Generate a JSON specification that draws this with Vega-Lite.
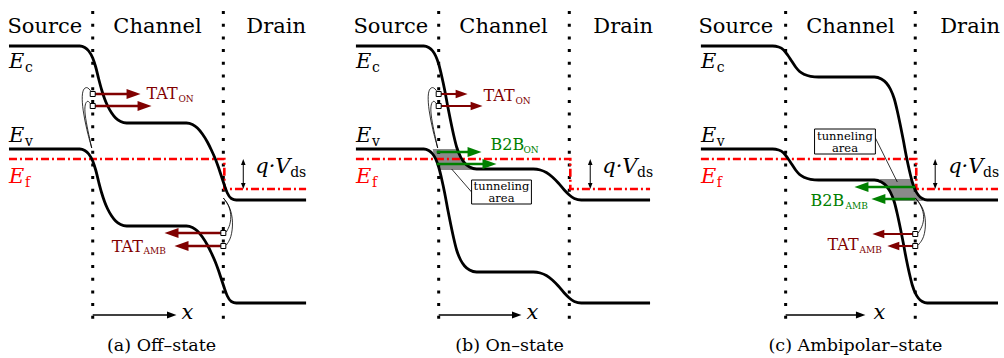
{
"$schema":"https://vega.github.io/schema/vega-lite/v6.json",
"width":1004,"height":358,
"autosize":{"type":"fit","contains":"padding"},
"padding":0,
"background":"white",
"config":{"view":{"stroke":null}},
"datasets":{
"bands":[
{"id":"aEc","x":9,"y":46},{"id":"aEc","x":80,"y":46},{"id":"aEc","x":85,"y":47.5},{"id":"aEc","x":89,"y":51},{"id":"aEc","x":93,"y":58},{"id":"aEc","x":96,"y":67},{"id":"aEc","x":99,"y":79},{"id":"aEc","x":102,"y":90},{"id":"aEc","x":105,"y":99},{"id":"aEc","x":108,"y":106},{"id":"aEc","x":112,"y":113},{"id":"aEc","x":116,"y":118},{"id":"aEc","x":121,"y":121.5},{"id":"aEc","x":127,"y":123},{"id":"aEc","x":187,"y":123},{"id":"aEc","x":193,"y":124.5},{"id":"aEc","x":198,"y":128},{"id":"aEc","x":203,"y":134},{"id":"aEc","x":208,"y":142},{"id":"aEc","x":212,"y":150},{"id":"aEc","x":216,"y":159},{"id":"aEc","x":219,"y":167},{"id":"aEc","x":222,"y":176},{"id":"aEc","x":225,"y":185},{"id":"aEc","x":228,"y":193},{"id":"aEc","x":232,"y":198.5},{"id":"aEc","x":237,"y":200},{"id":"aEc","x":307,"y":200},
{"id":"aEv","x":9,"y":149},{"id":"aEv","x":80,"y":149},{"id":"aEv","x":85,"y":150.5},{"id":"aEv","x":89,"y":154},{"id":"aEv","x":93,"y":161},{"id":"aEv","x":96,"y":170},{"id":"aEv","x":99,"y":182},{"id":"aEv","x":102,"y":193},{"id":"aEv","x":105,"y":202},{"id":"aEv","x":108,"y":209},{"id":"aEv","x":112,"y":216},{"id":"aEv","x":116,"y":221},{"id":"aEv","x":121,"y":224.5},{"id":"aEv","x":127,"y":226},{"id":"aEv","x":187,"y":226},{"id":"aEv","x":193,"y":227.5},{"id":"aEv","x":198,"y":231},{"id":"aEv","x":203,"y":237},{"id":"aEv","x":208,"y":245},{"id":"aEv","x":212,"y":253},{"id":"aEv","x":216,"y":262},{"id":"aEv","x":219,"y":270},{"id":"aEv","x":222,"y":279},{"id":"aEv","x":225,"y":288},{"id":"aEv","x":228,"y":296},{"id":"aEv","x":232,"y":301.5},{"id":"aEv","x":237,"y":303},{"id":"aEv","x":307,"y":303},
{"id":"bEc","x":357,"y":46},{"id":"bEc","x":425,"y":46},{"id":"bEc","x":430,"y":47.5},{"id":"bEc","x":434,"y":51},{"id":"bEc","x":437,"y":56},{"id":"bEc","x":440,"y":64},{"id":"bEc","x":443,"y":76},{"id":"bEc","x":446,"y":90},{"id":"bEc","x":449,"y":106},{"id":"bEc","x":452,"y":121},{"id":"bEc","x":455,"y":135},{"id":"bEc","x":458,"y":147},{"id":"bEc","x":462,"y":157},{"id":"bEc","x":466,"y":163},{"id":"bEc","x":471,"y":167},{"id":"bEc","x":478,"y":169},{"id":"bEc","x":535,"y":169},{"id":"bEc","x":542,"y":170},{"id":"bEc","x":548,"y":172.5},{"id":"bEc","x":554,"y":177},{"id":"bEc","x":560,"y":183},{"id":"bEc","x":566,"y":190},{"id":"bEc","x":571,"y":195},{"id":"bEc","x":576,"y":198.5},{"id":"bEc","x":583,"y":200},{"id":"bEc","x":652,"y":200},
{"id":"bEv","x":357,"y":149},{"id":"bEv","x":425,"y":149},{"id":"bEv","x":430,"y":150.5},{"id":"bEv","x":434,"y":154},{"id":"bEv","x":437,"y":159},{"id":"bEv","x":440,"y":167},{"id":"bEv","x":443,"y":179},{"id":"bEv","x":446,"y":193},{"id":"bEv","x":449,"y":209},{"id":"bEv","x":452,"y":224},{"id":"bEv","x":455,"y":238},{"id":"bEv","x":458,"y":250},{"id":"bEv","x":462,"y":260},{"id":"bEv","x":466,"y":266},{"id":"bEv","x":471,"y":270},{"id":"bEv","x":478,"y":272},{"id":"bEv","x":535,"y":272},{"id":"bEv","x":542,"y":273},{"id":"bEv","x":548,"y":275.5},{"id":"bEv","x":554,"y":280},{"id":"bEv","x":560,"y":286},{"id":"bEv","x":566,"y":293},{"id":"bEv","x":571,"y":298},{"id":"bEv","x":576,"y":301.5},{"id":"bEv","x":583,"y":303},{"id":"bEv","x":652,"y":303},
{"id":"cEc","x":703,"y":46},{"id":"cEc","x":775,"y":46},{"id":"cEc","x":781,"y":47},{"id":"cEc","x":786,"y":50},{"id":"cEc","x":790,"y":55},{"id":"cEc","x":794,"y":61},{"id":"cEc","x":798,"y":67},{"id":"cEc","x":802,"y":71.5},{"id":"cEc","x":807,"y":74.5},{"id":"cEc","x":813,"y":76.3},{"id":"cEc","x":821,"y":77},{"id":"cEc","x":877,"y":77},{"id":"cEc","x":884,"y":79},{"id":"cEc","x":889,"y":83},{"id":"cEc","x":893,"y":89},{"id":"cEc","x":897,"y":99},{"id":"cEc","x":900,"y":111},{"id":"cEc","x":903,"y":125},{"id":"cEc","x":906,"y":140},{"id":"cEc","x":909,"y":156},{"id":"cEc","x":912,"y":170},{"id":"cEc","x":915,"y":182},{"id":"cEc","x":918,"y":190},{"id":"cEc","x":921,"y":195},{"id":"cEc","x":925,"y":198.5},{"id":"cEc","x":930,"y":200},{"id":"cEc","x":1001,"y":200},
{"id":"cEv","x":703,"y":149},{"id":"cEv","x":775,"y":149},{"id":"cEv","x":781,"y":150},{"id":"cEv","x":786,"y":153},{"id":"cEv","x":790,"y":158},{"id":"cEv","x":794,"y":164},{"id":"cEv","x":798,"y":170},{"id":"cEv","x":802,"y":174.5},{"id":"cEv","x":807,"y":177.5},{"id":"cEv","x":813,"y":179.3},{"id":"cEv","x":821,"y":180},{"id":"cEv","x":877,"y":180},{"id":"cEv","x":884,"y":182},{"id":"cEv","x":889,"y":186},{"id":"cEv","x":893,"y":192},{"id":"cEv","x":897,"y":202},{"id":"cEv","x":900,"y":214},{"id":"cEv","x":903,"y":228},{"id":"cEv","x":906,"y":243},{"id":"cEv","x":909,"y":259},{"id":"cEv","x":912,"y":273},{"id":"cEv","x":915,"y":285},{"id":"cEv","x":918,"y":293},{"id":"cEv","x":921,"y":298},{"id":"cEv","x":925,"y":301.5},{"id":"cEv","x":930,"y":303},{"id":"cEv","x":1001,"y":303}
],
"fermi":[
{"id":"a","o":0,"x":9,"y":159},{"id":"a","o":1,"x":225,"y":159},{"id":"a","o":2,"x":225,"y":189},{"id":"a","o":3,"x":307,"y":189},
{"id":"b","o":0,"x":357,"y":159},{"id":"b","o":1,"x":572,"y":159},{"id":"b","o":2,"x":572,"y":189},{"id":"b","o":3,"x":652,"y":189},
{"id":"c","o":0,"x":703,"y":159},{"id":"c","o":1,"x":919,"y":159},{"id":"c","o":2,"x":919,"y":189},{"id":"c","o":3,"x":1001,"y":189}
],
"dots":[
{"x":93,"y":11,"y2":319},{"x":224,"y":11,"y2":319},{"x":440,"y":11,"y2":319},{"x":571,"y":11,"y2":319},{"x":788,"y":11,"y2":319},{"x":918,"y":11,"y2":319}
],
"gray":[
{"id":"b","y":149,"x":434,"x2":458},{"id":"b","y":155,"x":435,"x2":461},{"id":"b","y":160,"x":437,"x2":464},{"id":"b","y":165,"x":439,"x2":467.5},{"id":"b","y":170,"x":441,"x2":474},
{"id":"c","y":179,"x":882,"x2":914.5},{"id":"c","y":185,"x":888,"x2":916},{"id":"c","y":190,"x":892,"x2":918},{"id":"c","y":195,"x":894.5,"x2":921},{"id":"c","y":201,"x":897,"x2":926}
],
"curves":[
{"id":"a1","o":0,"x":92,"y":148},{"id":"a1","o":1,"x":87,"y":130},{"id":"a1","o":2,"x":83,"y":110},{"id":"a1","o":3,"x":82,"y":95},{"id":"a1","o":4,"x":84,"y":88},{"id":"a1","o":5,"x":88,"y":87},{"id":"a1","o":6,"x":91,"y":91},
{"id":"a2","o":0,"x":92,"y":148},{"id":"a2","o":1,"x":88,"y":130},{"id":"a2","o":2,"x":85,"y":114},{"id":"a2","o":3,"x":85,"y":104},{"id":"a2","o":4,"x":88,"y":100},{"id":"a2","o":5,"x":91,"y":104},
{"id":"a3","o":0,"x":224,"y":198},{"id":"a3","o":1,"x":229,"y":204},{"id":"a3","o":2,"x":232,"y":214},{"id":"a3","o":3,"x":231,"y":225},{"id":"a3","o":4,"x":227,"y":232},
{"id":"a4","o":0,"x":224,"y":198},{"id":"a4","o":1,"x":231,"y":207},{"id":"a4","o":2,"x":234,"y":222},{"id":"a4","o":3,"x":232,"y":238},{"id":"a4","o":4,"x":227,"y":245},
{"id":"b1","o":0,"x":439,"y":148},{"id":"b1","o":1,"x":434,"y":130},{"id":"b1","o":2,"x":430,"y":110},{"id":"b1","o":3,"x":429,"y":95},{"id":"b1","o":4,"x":431,"y":88},{"id":"b1","o":5,"x":435,"y":87},{"id":"b1","o":6,"x":438,"y":91},
{"id":"b2","o":0,"x":439,"y":148},{"id":"b2","o":1,"x":435,"y":130},{"id":"b2","o":2,"x":432,"y":114},{"id":"b2","o":3,"x":432,"y":104},{"id":"b2","o":4,"x":435,"y":100},{"id":"b2","o":5,"x":438,"y":104},
{"id":"c3","o":0,"x":918,"y":198},{"id":"c3","o":1,"x":923,"y":204},{"id":"c3","o":2,"x":927,"y":214},{"id":"c3","o":3,"x":926,"y":225},{"id":"c3","o":4,"x":921,"y":233},
{"id":"c4","o":0,"x":918,"y":198},{"id":"c4","o":1,"x":926,"y":207},{"id":"c4","o":2,"x":929,"y":222},{"id":"c4","o":3,"x":927,"y":238},{"id":"c4","o":4,"x":921,"y":245}
],
"boxes":[{"x":473,"x2":533,"y":180,"y2":204},{"x":817,"x2":878,"y":129,"y2":154}],
"pointers":[{"x":453,"y":169,"x2":473,"y2":192},{"x":878,"y":138,"x2":900,"y2":182}],
"squares":[{"x":93,"y":94},{"x":93,"y":106},{"x":224,"y":233},{"x":224,"y":246},{"x":440,"y":94},{"x":440,"y":106},{"x":918,"y":234},{"x":918,"y":246}],
"shafts":[
{"x":93,"y":94,"x2":135,"y2":94,"kind":"tat","w":"thick"},{"x":93,"y":106,"x2":146,"y2":106,"kind":"tat","w":"thick"},{"x":224,"y":233,"x2":171,"y2":233,"kind":"tat","w":"thick"},{"x":224,"y":246,"x2":181,"y2":246,"kind":"tat","w":"thick"},
{"x":440,"y":94,"x2":466,"y2":94,"kind":"tat","w":"thin"},{"x":440,"y":106,"x2":481,"y2":106,"kind":"tat","w":"thin"},{"x":438,"y":152,"x2":477,"y2":152,"kind":"b2b","w":"thick"},{"x":438,"y":164,"x2":492,"y2":164,"kind":"b2b","w":"thick"},
{"x":918,"y":187,"x2":863,"y2":187,"kind":"b2b","w":"thick"},{"x":918,"y":199,"x2":880,"y2":199,"kind":"b2b","w":"thick"},{"x":918,"y":234,"x2":878,"y2":234,"kind":"tat","w":"thin"},{"x":918,"y":246,"x2":893,"y2":246,"kind":"tat","w":"thin"},
{"x":93,"y":315,"x2":173,"y2":315,"kind":"band","w":"axis"},{"x":440,"y":315,"x2":519,"y2":315,"kind":"band","w":"axis"},{"x":788,"y":315,"x2":864,"y2":315,"kind":"band","w":"axis"},
{"x":244,"y":163,"x2":244,"y2":185,"kind":"band","w":"qv"},{"x":592,"y":163,"x2":592,"y2":185,"kind":"band","w":"qv"},{"x":938,"y":163,"x2":938,"y2":185,"kind":"band","w":"qv"}
],
"heads":[
{"x":141,"y":94,"dir":"r","kind":"tat","w":"thick"},{"x":152,"y":106,"dir":"r","kind":"tat","w":"thick"},{"x":165,"y":233,"dir":"l","kind":"tat","w":"thick"},{"x":175,"y":246,"dir":"l","kind":"tat","w":"thick"},
{"x":469,"y":94,"dir":"r","kind":"tat","w":"thin"},{"x":484,"y":106,"dir":"r","kind":"tat","w":"thin"},{"x":483,"y":152,"dir":"r","kind":"b2b","w":"thick"},{"x":498,"y":164,"dir":"r","kind":"b2b","w":"thick"},
{"x":857,"y":187,"dir":"l","kind":"b2b","w":"thick"},{"x":874,"y":199,"dir":"l","kind":"b2b","w":"thick"},{"x":875,"y":234,"dir":"l","kind":"tat","w":"thin"},{"x":890,"y":246,"dir":"l","kind":"tat","w":"thin"},
{"x":177,"y":315,"dir":"r","kind":"band","w":"axis"},{"x":523,"y":315,"dir":"r","kind":"band","w":"axis"},{"x":868,"y":315,"dir":"r","kind":"band","w":"axis"},
{"x":244,"y":159,"dir":"u","kind":"band","w":"qv"},{"x":244,"y":189,"dir":"d","kind":"band","w":"qv"},{"x":592,"y":159,"dir":"u","kind":"band","w":"qv"},{"x":592,"y":189,"dir":"d","kind":"band","w":"qv"},{"x":938,"y":159,"dir":"u","kind":"band","w":"qv"},{"x":938,"y":189,"dir":"d","kind":"band","w":"qv"}
],
"labels":[
{"text":"Source","x":45,"y":33,"role":"region","kind":"band"},{"text":"Channel","x":158,"y":33,"role":"region","kind":"band"},{"text":"Drain","x":277,"y":33,"role":"region","kind":"band"},
{"text":"Source","x":392,"y":33,"role":"region","kind":"band"},{"text":"Channel","x":505,"y":33,"role":"region","kind":"band"},{"text":"Drain","x":625,"y":33,"role":"region","kind":"band"},
{"text":"Source","x":738,"y":33,"role":"region","kind":"band"},{"text":"Channel","x":853,"y":33,"role":"region","kind":"band"},{"text":"Drain","x":973,"y":33,"role":"region","kind":"band"},
{"text":"E","x":9,"y":68,"role":"math","kind":"band"},{"text":"E","x":9,"y":142,"role":"math","kind":"band"},{"text":"E","x":9,"y":183,"role":"math","kind":"fermi"},
{"text":"E","x":357,"y":68,"role":"math","kind":"band"},{"text":"E","x":357,"y":142,"role":"math","kind":"band"},{"text":"E","x":357,"y":183,"role":"math","kind":"fermi"},
{"text":"E","x":703,"y":68,"role":"math","kind":"band"},{"text":"E","x":703,"y":142,"role":"math","kind":"band"},{"text":"E","x":703,"y":183,"role":"math","kind":"fermi"},
{"text":"q·V","x":256,"y":173,"role":"math","kind":"band"},{"text":"q·V","x":604,"y":173,"role":"math","kind":"band"},{"text":"q·V","x":951,"y":173,"role":"math","kind":"band"},
{"text":"x","x":182,"y":319,"role":"math","kind":"band"},{"text":"x","x":528,"y":319,"role":"math","kind":"band"},{"text":"x","x":876,"y":319,"role":"math","kind":"band"},
{"text":"c","x":25,"y":72,"role":"sub","kind":"band"},{"text":"v","x":25,"y":146,"role":"sub","kind":"band"},{"text":"f","x":25,"y":187,"role":"sub","kind":"fermi"},
{"text":"c","x":373,"y":72,"role":"sub","kind":"band"},{"text":"v","x":373,"y":146,"role":"sub","kind":"band"},{"text":"f","x":373,"y":187,"role":"sub","kind":"fermi"},
{"text":"c","x":719,"y":72,"role":"sub","kind":"band"},{"text":"v","x":719,"y":146,"role":"sub","kind":"band"},{"text":"f","x":719,"y":187,"role":"sub","kind":"fermi"},
{"text":"ds","x":291,"y":177,"role":"sub","kind":"band"},{"text":"ds","x":639,"y":177,"role":"sub","kind":"band"},{"text":"ds","x":986,"y":177,"role":"sub","kind":"band"},
{"text":"TAT","x":147,"y":99,"role":"ann","kind":"tat"},{"text":"TAT","x":112,"y":252,"role":"ann","kind":"tat"},{"text":"TAT","x":485,"y":101,"role":"ann","kind":"tat"},{"text":"B2B","x":492,"y":150,"role":"ann","kind":"b2b"},{"text":"B2B","x":813,"y":206,"role":"ann","kind":"b2b"},{"text":"TAT","x":830,"y":250,"role":"ann","kind":"tat"},
{"text":"ON","x":179,"y":102,"role":"annsub","kind":"tat"},{"text":"AMB","x":144,"y":254,"role":"annsub","kind":"tat"},{"text":"ON","x":517,"y":104,"role":"annsub","kind":"tat"},{"text":"ON","x":525,"y":153,"role":"annsub","kind":"b2b"},{"text":"AMB","x":848,"y":209,"role":"annsub","kind":"b2b"},{"text":"AMB","x":862,"y":253,"role":"annsub","kind":"tat"},
{"text":"tunneling","x":503,"y":190,"role":"box","kind":"band"},{"text":"area","x":503,"y":202,"role":"box","kind":"band"},{"text":"tunneling","x":847.5,"y":139.5,"role":"box","kind":"band"},{"text":"area","x":847.5,"y":151.5,"role":"box","kind":"band"},
{"text":"(a) Off–state","x":162,"y":351,"role":"caption","kind":"band"},{"text":"(b) On–state","x":511,"y":351,"role":"caption","kind":"band"},{"text":"(c) Ambipolar–state","x":858,"y":351,"role":"caption","kind":"band"}
]
},
"encoding":{
"x":{"field":"x","type":"quantitative","scale":{"domain":[0,1004],"nice":false,"zero":false},"axis":null},
"y":{"field":"y","type":"quantitative","scale":{"domain":[0,358],"reverse":true,"nice":false,"zero":false},"axis":null}
},
"layer":[
{"data":{"name":"gray"},"mark":{"type":"area","orient":"horizontal","color":"#8a8a8a","opacity":1},
 "encoding":{"x2":{"field":"x2"},"detail":{"field":"id","type":"nominal"}}},
{"data":{"name":"dots"},"mark":{"type":"rule","color":"black","strokeWidth":3,"strokeDash":[3,9.7],"strokeCap":"butt"},
 "encoding":{"y2":{"field":"y2"}}},
{"data":{"name":"fermi"},"mark":{"type":"line","color":"#ff0000","strokeWidth":2.6,"strokeDash":[8,3,2,3]},
 "encoding":{"detail":{"field":"id","type":"nominal"},"order":{"field":"o","type":"quantitative"}}},
{"data":{"name":"bands"},"mark":{"type":"line","color":"black","strokeWidth":2.8,"interpolate":"monotone"},
 "encoding":{"detail":{"field":"id","type":"nominal"}}},
{"data":{"name":"curves"},"mark":{"type":"line","color":"black","strokeWidth":0.8,"interpolate":"basis"},
 "encoding":{"detail":{"field":"id","type":"nominal"},"order":{"field":"o","type":"quantitative"}}},
{"data":{"name":"pointers"},"mark":{"type":"rule","color":"black","strokeWidth":0.8},
 "encoding":{"x2":{"field":"x2"},"y2":{"field":"y2"}}},
{"data":{"name":"boxes"},"mark":{"type":"rect","fill":"white","stroke":"black","strokeWidth":1},
 "encoding":{"x2":{"field":"x2"},"y2":{"field":"y2"}}},
{"data":{"name":"shafts"},"mark":{"type":"rule","strokeCap":"butt"},
 "encoding":{"x2":{"field":"x2"},"y2":{"field":"y2"},
  "color":{"field":"kind","type":"nominal","scale":{"domain":["band","fermi","tat","b2b"],"range":["#000000","#ff0000","#800000","#008000"]},"legend":null},
  "strokeWidth":{"field":"w","type":"ordinal","scale":{"domain":["thick","thin","axis","qv"],"range":[2.6,1,1.1,1.8]},"legend":null}}},
{"data":{"name":"heads"},"mark":{"type":"point","filled":true,"opacity":1,"strokeWidth":0},
 "encoding":{
  "color":{"field":"kind","type":"nominal","scale":{"domain":["band","fermi","tat","b2b"],"range":["#000000","#ff0000","#800000","#008000"]},"legend":null},
  "shape":{"field":"dir","type":"nominal","scale":{"domain":["r","l","u","d"],"range":["M0,0L-1,-0.36L-1,0.36Z","M0,0L1,-0.36L1,0.36Z","M0,0L-0.38,1L0.38,1Z","M0,0L-0.38,-1L0.38,-1Z"]},"legend":null},
  "size":{"field":"w","type":"ordinal","scale":{"domain":["thick","thin","axis","qv"],"range":[784,144,400,400]},"legend":null}}},
{"data":{"name":"squares"},"mark":{"type":"square","size":25,"fill":"white","stroke":"black","strokeWidth":1,"opacity":1}},
{"data":{"name":"labels"},"transform":[{"filter":"datum.role==='region'"}],"mark":{"type":"text","font":"DejaVu Serif","fontSize":21,"align":"center","baseline":"alphabetic"},
 "encoding":{"text":{"field":"text"},"color":{"field":"kind","type":"nominal","scale":{"domain":["band","fermi","tat","b2b"],"range":["#000000","#ff0000","#800000","#008000"]},"legend":null}}},
{"data":{"name":"labels"},"transform":[{"filter":"datum.role==='math'"}],"mark":{"type":"text","font":"DejaVu Serif","fontSize":21,"fontStyle":"italic","align":"left","baseline":"alphabetic"},
 "encoding":{"text":{"field":"text"},"color":{"field":"kind","type":"nominal","scale":{"domain":["band","fermi","tat","b2b"],"range":["#000000","#ff0000","#800000","#008000"]},"legend":null}}},
{"data":{"name":"labels"},"transform":[{"filter":"datum.role==='sub'"}],"mark":{"type":"text","font":"DejaVu Serif","fontSize":14,"align":"left","baseline":"alphabetic"},
 "encoding":{"text":{"field":"text"},"color":{"field":"kind","type":"nominal","scale":{"domain":["band","fermi","tat","b2b"],"range":["#000000","#ff0000","#800000","#008000"]},"legend":null}}},
{"data":{"name":"labels"},"transform":[{"filter":"datum.role==='ann'"}],"mark":{"type":"text","font":"DejaVu Serif","fontSize":16,"align":"left","baseline":"alphabetic"},
 "encoding":{"text":{"field":"text"},"color":{"field":"kind","type":"nominal","scale":{"domain":["band","fermi","tat","b2b"],"range":["#000000","#ff0000","#800000","#008000"]},"legend":null}}},
{"data":{"name":"labels"},"transform":[{"filter":"datum.role==='annsub'"}],"mark":{"type":"text","font":"DejaVu Serif","fontSize":9,"align":"left","baseline":"alphabetic"},
 "encoding":{"text":{"field":"text"},"color":{"field":"kind","type":"nominal","scale":{"domain":["band","fermi","tat","b2b"],"range":["#000000","#ff0000","#800000","#008000"]},"legend":null}}},
{"data":{"name":"labels"},"transform":[{"filter":"datum.role==='box'"}],"mark":{"type":"text","font":"DejaVu Serif","fontSize":11.5,"align":"center","baseline":"alphabetic"},
 "encoding":{"text":{"field":"text"},"color":{"field":"kind","type":"nominal","scale":{"domain":["band","fermi","tat","b2b"],"range":["#000000","#ff0000","#800000","#008000"]},"legend":null}}},
{"data":{"name":"labels"},"transform":[{"filter":"datum.role==='caption'"}],"mark":{"type":"text","font":"DejaVu Serif","fontSize":17.5,"align":"center","baseline":"alphabetic"},
 "encoding":{"text":{"field":"text"},"color":{"field":"kind","type":"nominal","scale":{"domain":["band","fermi","tat","b2b"],"range":["#000000","#ff0000","#800000","#008000"]},"legend":null}}}
]
}
